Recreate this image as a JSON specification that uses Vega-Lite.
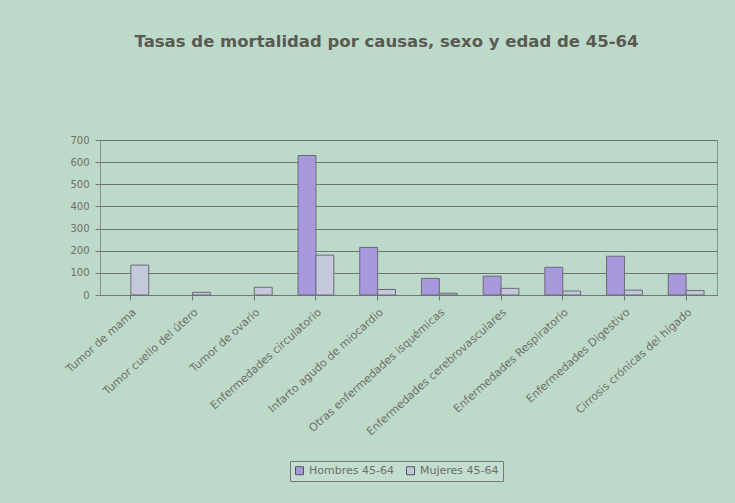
{
  "$schema": "https://vega.github.io/schema/vega-lite/v6.json",
  "width": 617,
  "height": 155,
  "autosize": {"type": "none"},
  "padding": {"left": 100, "top": 140, "right": 18, "bottom": 208},
  "background": "#bdd9ca",
  "title": {
    "text": "Tasas de mortalidad por causas, sexo y edad de 45-64",
    "fontSize": 16.5,
    "fontWeight": "bold",
    "font": "DejaVu Sans",
    "color": "#5a5a52",
    "offset": 85,
    "dx": -22,
    "anchor": "middle"
  },
  "data": {
    "values": [
      {"causa": "Tumor de mama", "sexo": "Hombres 45-64", "tasa": null},
      {"causa": "Tumor de mama", "sexo": "Mujeres 45-64", "tasa": 135},
      {"causa": "Tumor cuello del útero", "sexo": "Hombres 45-64", "tasa": null},
      {"causa": "Tumor cuello del útero", "sexo": "Mujeres 45-64", "tasa": 12},
      {"causa": "Tumor de ovario", "sexo": "Hombres 45-64", "tasa": null},
      {"causa": "Tumor de ovario", "sexo": "Mujeres 45-64", "tasa": 35},
      {"causa": "Enfermedades circulatorio", "sexo": "Hombres 45-64", "tasa": 630},
      {"causa": "Enfermedades circulatorio", "sexo": "Mujeres 45-64", "tasa": 180},
      {"causa": "Infarto agudo de miocardio", "sexo": "Hombres 45-64", "tasa": 215},
      {"causa": "Infarto agudo de miocardio", "sexo": "Mujeres 45-64", "tasa": 25},
      {"causa": "Otras enfermedades isquémicas", "sexo": "Hombres 45-64", "tasa": 75},
      {"causa": "Otras enfermedades isquémicas", "sexo": "Mujeres 45-64", "tasa": 8},
      {"causa": "Enfermedades cerebrovasculares", "sexo": "Hombres 45-64", "tasa": 85},
      {"causa": "Enfermedades cerebrovasculares", "sexo": "Mujeres 45-64", "tasa": 30},
      {"causa": "Enfermedades Respiratorio", "sexo": "Hombres 45-64", "tasa": 125},
      {"causa": "Enfermedades Respiratorio", "sexo": "Mujeres 45-64", "tasa": 18},
      {"causa": "Enfermedades Digestivo", "sexo": "Hombres 45-64", "tasa": 175},
      {"causa": "Enfermedades Digestivo", "sexo": "Mujeres 45-64", "tasa": 22},
      {"causa": "Cirrosis crónicas del hígado", "sexo": "Hombres 45-64", "tasa": 95},
      {"causa": "Cirrosis crónicas del hígado", "sexo": "Mujeres 45-64", "tasa": 20}
    ]
  },
  "mark": {"type": "bar", "stroke": "#6a6a78", "strokeWidth": 1},
  "encoding": {
    "x": {
      "field": "causa",
      "type": "nominal",
      "sort": null,
      "title": null,
      "scale": {"paddingInner": 0.42, "paddingOuter": 0.21},
      "axis": {
        "labelAngle": -42,
        "labelAlign": "right",
        "labelBaseline": "top",
        "labelFontSize": 11,
        "labelFont": "DejaVu Sans",
        "labelColor": "#6f6f66",
        "labelPadding": 6,
        "ticks": true,
        "tickColor": "#777",
        "domainColor": "#777",
        "labelLimit": 300
      }
    },
    "xOffset": {"field": "sexo", "type": "nominal"},
    "y": {
      "field": "tasa",
      "type": "quantitative",
      "title": null,
      "scale": {"domain": [0, 700]},
      "axis": {
        "values": [0, 100, 200, 300, 400, 500, 600, 700],
        "grid": true,
        "gridColor": "#6e7670",
        "gridWidth": 1,
        "domain": false,
        "ticks": true,
        "tickColor": "#777",
        "labelFontSize": 10,
        "labelFont": "DejaVu Sans",
        "labelColor": "#6f6f66",
        "labelPadding": 6
      }
    },
    "color": {
      "field": "sexo",
      "type": "nominal",
      "scale": {"domain": ["Hombres 45-64", "Mujeres 45-64"], "range": ["#a898dc", "#c3c9db"]},
      "legend": {
        "title": null,
        "orient": "none",
        "direction": "horizontal",
        "legendX": 190,
        "legendY": 321,
        "symbolType": "square",
        "symbolSize": 64,
        "symbolStrokeColor": "#555",
        "symbolStrokeWidth": 1,
        "labelFontSize": 11,
        "labelFont": "DejaVu Sans",
        "labelColor": "#6f6f66",
        "columnPadding": 10,
        "padding": 4,
        "strokeColor": "#777",
        "fillColor": "#c3ddd0"
      }
    }
  },
  "config": {
    "view": {"stroke": "#8a908a"}
  }
}
